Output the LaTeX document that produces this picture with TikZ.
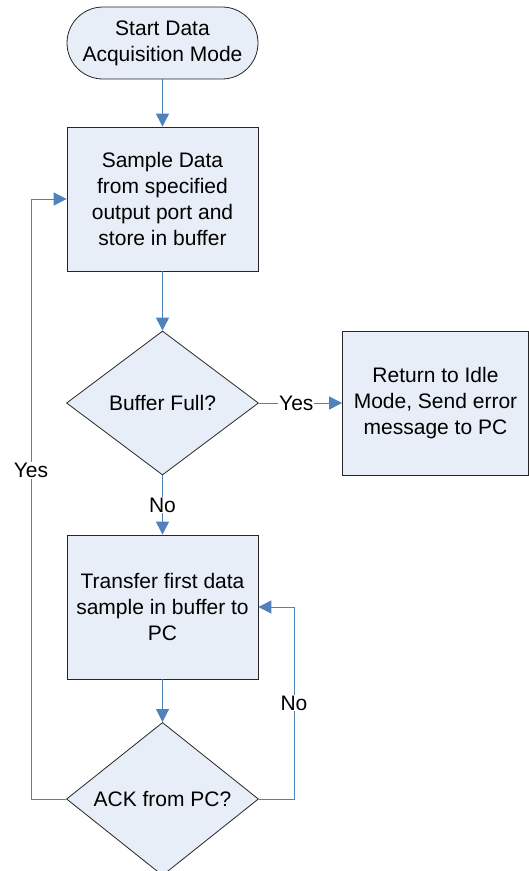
\documentclass[tikz,border=0pt]{standalone}
\usepackage{fontspec}
\setmainfont{Liberation Sans}
\usetikzlibrary{shapes.geometric,arrows.meta}
\definecolor{boxfill}{RGB}{232,238,247}
\definecolor{linkblue}{RGB}{79,129,189}
\newcommand{\diafont}{\fontsize{21}{25.7}\selectfont}
\begin{document}
\begin{tikzpicture}[x=1pt,y=-1pt,
  shapebase/.style={draw=black!85, fill=boxfill, line width=0.8pt, align=center, inner sep=0pt, font=\diafont},
  procbox/.style={shapebase, minimum width=191pt, minimum height=144pt},
  termbox/.style={shapebase, minimum width=191pt, minimum height=72pt, rounded corners=36pt},
  decision/.style={shapebase, diamond, minimum width=192pt, minimum height=144pt},
  arr/.style={draw=linkblue, line width=0.9pt, -{Triangle[length=13pt,width=13pt]}},
  lbl/.style={fill=white, inner sep=1pt, font=\diafont, text=black}]
\useasboundingbox (0,0) rectangle (529,871);
\node[termbox] (start) at (162.5,43) {Start Data\\Acquisition Mode};
\node[procbox] (b1) at (162.5,199) {Sample Data\\from specified\\output port and\\store in buffer};
\node[decision] (d1) at (162.5,403) {Buffer Full?};
\node[procbox, minimum width=186pt] (err) at (435.5,403) {Return to Idle\\Mode, Send error\\message to PC};
\node[procbox] (b3) at (162.5,607) {Transfer first data\\sample in buffer to\\PC};
\node[decision] (d2) at (162.5,799) {ACK from PC?};
\coordinate (ly) at (31,799);
\coordinate (lt) at (31,199);
\coordinate (ry) at (294,799);
\coordinate (rt) at (294,607);
\draw[arr] (start) -- (b1);
\draw[arr] (b1) -- (d1);
\draw[arr] (d1) -- node[lbl, pos=0.45]{Yes} (err);
\draw[arr] (d1) -- node[lbl]{No} (b3);
\draw[arr] (b3) -- (d2);
\draw[arr] (d2.west) -- (ly) -- node[lbl, pos=0.548]{Yes} (lt) -- (b1.west);
\draw[arr] (d2.east) -- (ry) -- node[lbl]{No} (rt) -- (b3.east);
\end{tikzpicture}
\end{document}
